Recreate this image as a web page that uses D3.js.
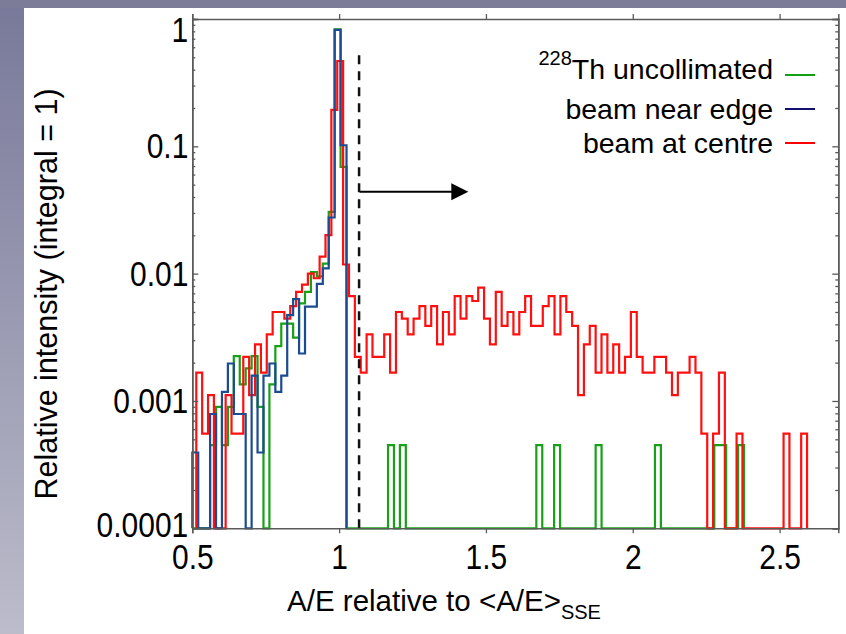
<!DOCTYPE html>
<html><head><meta charset="utf-8">
<script src="https://cdn.jsdelivr.net/npm/d3@7"></script>
<style>
html,body{margin:0;padding:0;background:#fff;}
svg{display:block;font-family:"Liberation Sans",Arial,sans-serif;}
</style></head><body>
<svg id="chart" width="846" height="634"></svg>
<script>
// ---------- data ----------
const seriesNames = ["Th uncollimated", "beam near edge", "beam at centre"];
const xTicks = [0.5, 1, 1.5, 2, 2.5];
const xTickLabels = ["0.5", "1", "1.5", "2", "2.5"];
const yTicks = [1, 0.1, 0.01, 0.001, 0.0001];
const yTickLabels = ["1", "0.1", "0.01", "0.001", "0.0001"];

const greenBinStart = 0.5, greenBinWidth = 0.0202;
const blueBinStart = 0.5, blueBinWidth = 0.0202;
const redBinStart = 0.5136, redBinWidth = 0.02;

const greenValues = [0, 0, 0, 0.00045, 0.0009, 0.00045, 0.0009, 0.00225, 0.00135, 0.0018,
  0.00225, 0.0009, 0, 0.00135, 0.0027, 0.00405, 0.00405, 0.00315, 0.00585, 0.0072,
  0.0103, 0.0095, 0.012, 0.0306, 0.83, 0.069, 0, 0, 0, 0,
  0, 0, 0, 0.00045, 0, 0.00045, 0, 0, 0, 0,
  0, 0, 0, 0, 0, 0, 0, 0, 0, 0,
  0, 0, 0, 0, 0, 0, 0, 0, 0.00045, 0,
  0, 0.00045, 0, 0, 0, 0, 0, 0, 0.00045, 0,
  0, 0, 0, 0, 0, 0, 0, 0, 0.00045, 0,
  0, 0, 0, 0, 0, 0, 0, 0, 0.00045, 0.00045,
  0, 0, 0.00045];

const blueValues = [0.000394, 0, 0, 0.00079, 0, 0.00118, 0.00197, 0.00079, 0.00079, 0,
  0.00158, 0.000394, 0.00158, 0.00197, 0.00118, 0.00158, 0.00473, 0.0063, 0.00236, 0.0055,
  0.0055, 0.0083, 0.011, 0.0276, 0.82, 0.102];

const redValues = [0.00167, 0.000555, 0.00111, 0, 0, 0.00111, 0.000555, 0.000555, 0.00222, 0.00111,
  0.00278, 0.00167, 0.00333, 0.005, 0.005, 0.00444, 0.00555, 0.0072, 0.0082, 0.01,
  0.0092, 0.0136, 0.0201, 0.193, 0.468, 0.0118, 0.00666, 0.00222, 0.00167, 0.00333,
  0.00222, 0.00222, 0.00333, 0.00167, 0.005, 0.00444, 0.00333, 0.00444, 0.00555, 0.00389,
  0.00555, 0.00278, 0.005, 0.00333, 0.00666, 0.00444, 0.00666, 0.0061, 0.00777, 0.00444,
  0.00278, 0.0072, 0.00389, 0.005, 0.00333, 0.005, 0.00666, 0.00389, 0.00389, 0.00555,
  0.00666, 0.00333, 0.00666, 0.005, 0.00389, 0.00111, 0.00278, 0.00389, 0.00167, 0.00333,
  0.00167, 0.00278, 0.00167, 0.00222, 0.005, 0.00222, 0.00167, 0.00167, 0.00222, 0.00222,
  0.00167, 0.00111, 0.00167, 0.00167, 0.00222, 0.00167, 0.000555, 0, 0.000555, 0.00167,
  0, 0, 0.000555, 0, 0, 0, 0, 0, 0, 0,
  0.000555, 0, 0, 0.000555];

const cutValue = 1.068, cutTop = 0.52;
const arrowFrom = 1.07, arrowTo = 1.44, arrowLevel = 0.044;

// ---------- drawing ----------
const W = 846, H = 634;
const FONT = '"Liberation Sans",Arial,sans-serif';
const svg = d3.select("#chart");
const defs = svg.append("defs");
const grad = defs.append("linearGradient").attr("id", "bg").attr("x1", 0).attr("y1", 0).attr("x2", 0).attr("y2", 1);
grad.append("stop").attr("offset", "0%").attr("stop-color", "#78789a");
grad.append("stop").attr("offset", "100%").attr("stop-color", "#bcbccb");
svg.append("rect").attr("width", W).attr("height", H).attr("fill", "url(#bg)");
svg.append("rect").attr("width", W).attr("height", 8).attr("fill", "#7c7c98");
svg.append("rect").attr("x", 24).attr("y", 8).attr("width", W - 24).attr("height", H - 8).attr("fill", "#ffffff");

const x = d3.scaleLinear().domain([0.5, 2.7]).range([192.3, 838.3]);
const y = d3.scaleLog().domain([1e-4, 1]).range([528.3, 19]);
const yb = y(1e-4);
const axisColor = "#5a5a5a";

function stepPoints(values, start, width) {
  const pts = [[x(start), yb]];
  values.forEach((v, i) => {
    const yy = v > 0 ? y(v) : yb;
    pts.push([x(start + i * width), yy]);
    pts.push([x(start + (i + 1) * width), yy]);
  });
  pts.push([x(start + values.length * width), yb]);
  return pts;
}
const line = d3.line();
const series = [
  {vals: greenValues, s: greenBinStart, w: greenBinWidth, c: "#18a018"},
  {vals: redValues, s: redBinStart, w: redBinWidth, c: "#ff1010"},
  {vals: blueValues, s: blueBinStart, w: blueBinWidth, c: "#1b4b91"}
];
const plot = svg.append("g");
series.forEach(sr => {
  plot.append("path").attr("d", line(stepPoints(sr.vals, sr.s, sr.w)))
    .attr("fill", "none").attr("stroke", sr.c).attr("stroke-width", 2.2)
    .attr("stroke-linejoin", "miter");
});

// cut line and arrow
svg.append("line").attr("x1", x(cutValue)).attr("x2", x(cutValue))
  .attr("y1", y(cutTop)).attr("y2", yb)
  .attr("stroke", "#111").attr("stroke-width", 2.5).attr("stroke-dasharray", "9,7");
const ay = y(arrowLevel), ax1 = x(arrowFrom), ax2 = x(arrowTo);
svg.append("line").attr("x1", ax1).attr("x2", ax2 - 14).attr("y1", ay).attr("y2", ay)
  .attr("stroke", "#000").attr("stroke-width", 2);
svg.append("path").attr("d", `M${ax2},${ay}L${ax2 - 17},${ay - 8.5}L${ax2 - 17},${ay + 8.5}Z`).attr("fill", "#000");

// axes
const gx = svg.append("g").attr("transform", `translate(0,${yb})`)
  .call(d3.axisBottom(x).tickValues(xTicks).tickSize(5).tickPadding(12)
    .tickFormat((d, i) => xTickLabels[i]));
svg.append("g").attr("transform", `translate(0,${y(1)})`)
  .call(d3.axisTop(x).tickValues(xTicks).tickSize(5).tickFormat(""));
const minor = y.ticks().filter(t => Math.abs(Math.log10(t) - Math.round(Math.log10(t))) > 1e-6);
const gy = svg.append("g").attr("transform", `translate(${x(0.5)},0)`)
  .call(d3.axisLeft(y).tickValues(yTicks).tickSize(-6).tickPadding(4)
    .tickFormat((d, i) => yTickLabels[i]));
svg.append("g").attr("transform", `translate(${x(0.5)},0)`)
  .call(d3.axisLeft(y).tickValues(minor).tickSize(-3).tickFormat(""));
svg.append("g").attr("transform", `translate(${x(2.7)},0)`)
  .call(d3.axisRight(y).tickValues(yTicks).tickSize(-6).tickFormat(""));
svg.append("g").attr("transform", `translate(${x(2.7)},0)`)
  .call(d3.axisRight(y).tickValues(minor).tickSize(-3).tickFormat(""));
svg.selectAll(".domain").attr("stroke", axisColor).attr("stroke-width", 1.5);
svg.selectAll(".tick line").attr("stroke", axisColor).attr("stroke-width", 1.3);
svg.selectAll(".tick text").attr("fill", "#000").attr("font-size", 30).attr("font-family", FONT)
  .attr("transform", "scale(1,1.15)");
gy.selectAll(".tick text").attr("dy", "0.33em");
gy.selectAll(".tick text").filter(d => d === 1).attr("dy", "0.64em");
gy.selectAll(".tick text").filter(d => d === 1e-4).attr("dy", "0.24em");
gx.selectAll(".tick text").attr("dy", "0.6em");

// axis titles
svg.append("text").attr("x", 444).attr("y", 611).attr("text-anchor", "middle")
  .attr("font-size", 29.5).attr("fill", "#000").attr("font-family", FONT)
  .text("A/E relative to <A/E>")
  .append("tspan").attr("font-size", 20).attr("dy", 8).text("SSE");
svg.append("text").attr("transform", "translate(57,294) rotate(-90)").attr("text-anchor", "middle")
  .attr("font-size", 30.5).attr("fill", "#000").attr("font-family", FONT)
  .text("Relative intensity (integral = 1)");

// legend
const legendColors = ["#10a010", "#101070", "#ff0000"];
const legendY = [75, 109, 143];
seriesNames.forEach((n, i) => {
  const t = svg.append("text").attr("x", 773).attr("y", legendY[i]).attr("dy", "0.36em")
    .attr("text-anchor", "end").attr("font-size", 28.5).attr("fill", "#000").attr("font-family", FONT);
  if (i === 0) {
    t.append("tspan").attr("font-size", 20).attr("dy", "-0.5em").text("228");
    t.append("tspan").attr("dy", "0.5em").text(n);
  } else {
    t.text(n);
  }
  svg.append("line").attr("x1", 785).attr("x2", 815).attr("y1", legendY[i]).attr("y2", legendY[i])
    .attr("stroke", legendColors[i]).attr("stroke-width", 2);
});
</script>
</body></html>
